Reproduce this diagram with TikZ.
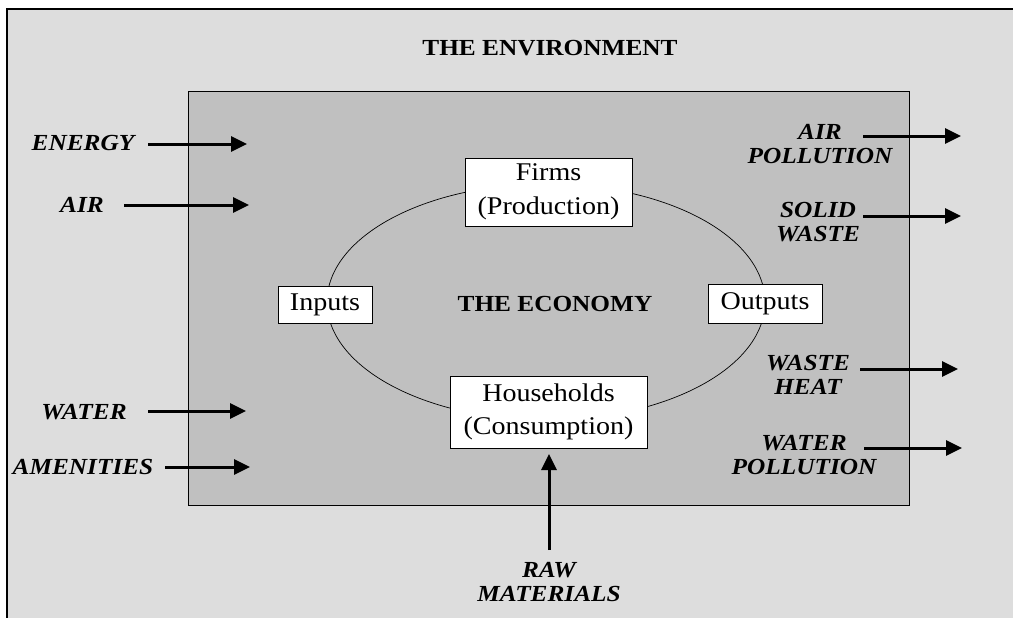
\documentclass[tikz,border=0pt]{standalone}
\usepackage{fontspec}
\setmainfont{Liberation Serif}[FakeStretch=1.1]
\usetikzlibrary{arrows.meta,shapes.geometric}
\definecolor{envgray}{HTML}{DDDDDD}
\definecolor{ecogray}{HTML}{C0C0C0}
\tikzset{
  flow/.style={line width=3pt,-{Triangle[length=16pt,width=15pt]}},
  lbl/.style={font=\fontsize{23}{24.5}\selectfont\bfseries\itshape,align=center,inner sep=0pt},
  agent/.style={draw,line width=0.9pt,fill=white,align=center,inner sep=0pt,font=\fontsize{25.5}{34}\selectfont},
  title/.style={font=\fontsize{23}{26}\selectfont\bfseries,inner sep=0pt}
}
\begin{document}
\begin{tikzpicture}[x=1pt,y=-1pt]
\useasboundingbox (0,0) rectangle (1013,618);
\fill[white] (0,0) rectangle (1013,618);
\fill[envgray] (7,9) rectangle (1013,618);
\draw[line width=2.5pt] (7,620) -- (7,9) -- (1013,9);
\draw[line width=0.8pt,fill=ecogray] (188,91) rectangle (909,505);
\node[title] (env) at (550,48) {THE ENVIRONMENT};
\draw[line width=0.7pt] (546,302) ellipse [x radius=219, y radius=118];
\node[title] (eco) at (555,304) {THE ECONOMY};
\node[agent,minimum width=167pt,minimum height=68pt] (firms) at (548.5,192) {Firms\\(Production)};
\node[agent,minimum width=197pt,minimum height=72pt,font=\fontsize{25.5}{33}\selectfont] (house) at (548.5,412) {Households\\(Consumption)};
\node[agent,minimum width=94pt,minimum height=37pt] (inputs) at (325,304.5) {Inputs};
\node[agent,minimum width=114pt,minimum height=39pt] (outputs) at (765,303.5) {Outputs};
% left inputs
\node[lbl] (energy) at (83,143) {ENERGY};
\node[lbl] (air) at (82,205) {AIR};
\node[lbl] (water) at (84,412) {WATER};
\node[lbl] (amen) at (83,467) {AMENITIES};
\coordinate (e1) at (148,144); \coordinate (e2) at (247,144);
\coordinate (a1) at (124,205); \coordinate (a2) at (249,205);
\coordinate (w1) at (148,411); \coordinate (w2) at (246,411);
\coordinate (m1) at (165,467); \coordinate (m2) at (250,467);
\draw[flow] (e1) -- (e2);
\draw[flow] (a1) -- (a2);
\draw[flow] (w1) -- (w2);
\draw[flow] (m1) -- (m2);
% right outputs
\node[lbl] (airp) at (820,144) {AIR\\POLLUTION};
\node[lbl] (solid) at (818,222) {SOLID\\WASTE};
\node[lbl] (heat) at (808,375) {WASTE\\HEAT};
\node[lbl] (waterp) at (804,455) {WATER\\POLLUTION};
\coordinate (p1) at (863,136); \coordinate (p2) at (961,136);
\coordinate (s1) at (863,216); \coordinate (s2) at (961,216);
\coordinate (h1) at (860,369); \coordinate (h2) at (958,369);
\coordinate (q1) at (864,448); \coordinate (q2) at (962,448);
\draw[flow] (p1) -- (p2);
\draw[flow] (s1) -- (s2);
\draw[flow] (h1) -- (h2);
\draw[flow] (q1) -- (q2);
% raw materials
\node[lbl] (raw) at (549,582) {RAW\\MATERIALS};
\coordinate (r1) at (549,550);
\draw[flow] (r1) -- (549,454);
\end{tikzpicture}
\end{document}
